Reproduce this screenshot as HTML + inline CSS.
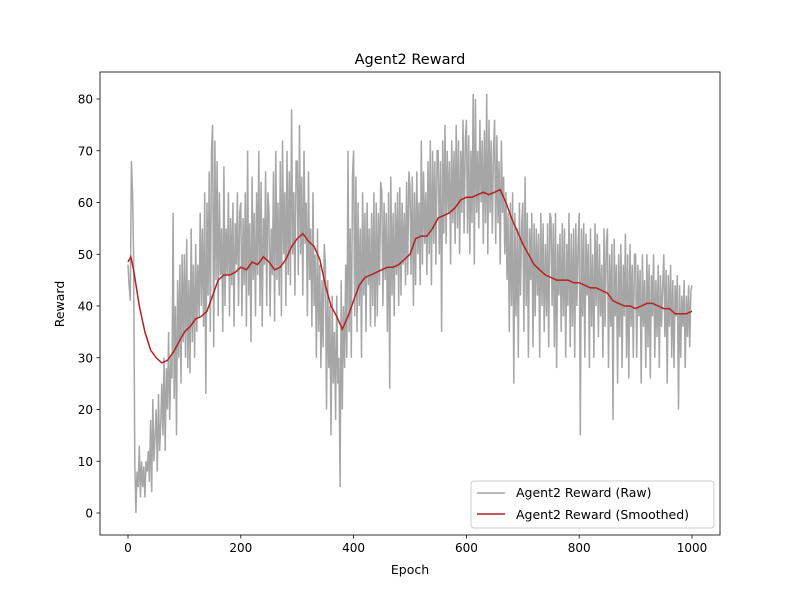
<!DOCTYPE html>
<html><head><meta charset="utf-8"><style>
body{margin:0;background:#fff}
svg text{font-family:"DejaVu Sans","Liberation Sans",sans-serif;fill:#000}
</style></head><body>
<svg id="chart" width="800" height="600" xmlns="http://www.w3.org/2000/svg"></svg>
<script>
const rawValues=[48,44,41,68,62,50,10,0,8,5,13,3,10,5,9,3,10,8,12,6,18,4,22,10,15,
20,8,23,12,17,25,15,30,12,28,20,35,18,30,26,58,22,40,15,45,30,48,25,50,33,
50,30,53,28,45,27,55,33,48,30,52,35,48,38,58,40,55,36,62,23,60,42,66,35,70,
75,32,72,45,68,38,62,46,55,35,67,40,55,46,62,38,57,44,60,36,56,48,62,40,58,
60,38,57,44,62,36,70,42,56,33,65,45,58,38,62,46,70,40,64,36,57,48,66,40,62,
58,38,55,46,66,37,70,45,60,42,68,38,72,50,62,40,70,46,66,44,78,50,62,42,68,
68,46,75,50,65,42,70,52,60,38,66,45,55,36,62,40,50,30,55,35,48,28,45,32,52,
48,20,45,28,40,15,42,25,35,18,42,25,30,5,45,20,40,28,48,30,70,35,55,30,65,
70,38,65,35,60,40,55,30,62,42,58,35,60,44,55,36,58,40,62,36,60,38,58,44,64,
62,40,60,45,58,35,62,24,65,42,58,38,60,46,62,40,63,42,60,48,58,44,64,46,66,
63,46,65,40,62,44,66,50,60,44,72,48,66,52,62,46,68,50,72,44,70,52,68,48,70,
70,50,68,35,72,54,75,52,70,58,68,48,72,56,70,52,75,55,72,50,70,58,76,54,72,
76,54,73,50,70,56,81,48,80,58,70,55,76,60,72,52,74,56,81,50,76,58,72,54,70,
76,52,73,56,68,48,72,58,65,50,62,45,58,35,60,40,62,25,58,38,55,30,60,42,56,
60,35,65,40,58,30,55,45,58,32,56,38,55,42,54,30,58,40,56,35,52,38,56,32,58,
57,40,56,32,58,28,52,42,54,35,56,38,55,30,52,40,58,32,54,36,55,30,56,40,52,
58,15,55,38,56,30,54,42,52,28,55,36,50,30,56,40,54,34,52,38,48,30,55,36,52,
55,28,50,36,52,18,53,38,48,25,50,34,52,28,48,38,54,30,50,26,52,36,48,30,50,
50,30,48,38,47,25,50,36,45,28,50,32,48,26,46,38,50,30,45,34,48,28,46,36,44,
50,34,47,25,46,36,48,30,45,28,44,38,46,20,44,30,42,36,45,28,42,34,44,32,43,
44];
const rawStep=2;
const smoothValues=[48.5,47,40,35,31.5,30,29,29.5,31,33,35,36,37.5,38,39,42,45,46,46,46.5,47.5,47,48.5,48,49.5,48.5,47,47.5,49,51.5,53,54,52.5,51.5,49,44,40,38,35.5,38,41,44,45.5,46,46.5,47,47.5,47.5,48,49,50,53,53.5,53.5,55,57,57.5,58,59,60.5,61,61,61.5,62,61.5,62,62.5,60,57,54.5,52,50,48,47,46,45.5,45,45,45,44.5,44.5,44,43.5,43.5,43,42.5,41,40.5,40,40,39.5,40,40.5,40.5,40,39.5,39.5,38.5,38.5,38.5,39];
const smoothStep=10;
const xTicks=[0,200,400,600,800,1000];
const yTicks=[0,10,20,30,40,50,60,70,80];
const NS="http://www.w3.org/2000/svg";
const svg=document.getElementById('chart');
const L=100,R=720,T=72,B=535;
const X=v=>128+v*0.564;
const Y=v=>513-v*5.175;
function el(tag,attrs,parent){const e=document.createElementNS(NS,tag);for(const k in attrs)e.setAttribute(k,attrs[k]);(parent||svg).appendChild(e);return e;}
const t=el('text',{x:410,y:64,'text-anchor':'middle','font-size':14.5});


t.textContent='Agent2 Reward';
let d=rawValues.map((v,i)=>(i?'L':'M')+X(i*rawStep).toFixed(1)+','+Y(v).toFixed(1)).join('');
const raw=el('path',{d:d,fill:'none',stroke:'#a6a6a6','stroke-width':1.5});


d=[X(0)+','+Y(48.5),X(5)+','+Y(49.5)].concat(smoothValues.slice(1).map((v,i)=>X((i+1)*smoothStep).toFixed(1)+','+Y(v).toFixed(1)));
const sm=el('path',{d:'M'+d.join('L'),fill:'none',stroke:'#b22222','stroke-width':1.5});


const frame=el('rect',{x:L,y:T,width:R-L,height:B-T,fill:'none',stroke:'#000','stroke-width':0.8});


xTicks.forEach(v=>{const g=el('g',{});


el('line',{x1:X(v),x2:X(v),y1:B,y2:B+3.5,stroke:'#000','stroke-width':0.8},g);
const tx=el('text',{x:X(v),y:B+17,'text-anchor':'middle','font-size':12},g);tx.textContent=v;});
yTicks.forEach(v=>{const g=el('g',{});


el('line',{x1:L,x2:L-3.5,y1:Y(v),y2:Y(v),stroke:'#000','stroke-width':0.8},g);
const tx=el('text',{x:L-7,y:Y(v)+4.5,'text-anchor':'end','font-size':12},g);tx.textContent=v;});
const xl=el('text',{x:410,y:574,'text-anchor':'middle','font-size':12.5});


xl.textContent='Epoch';
const yl=el('text',{x:64,y:304,'text-anchor':'middle','font-size':12.5,transform:'rotate(-90 64 304)'});


yl.textContent='Reward';
const lg=el('g',{});


el('rect',{x:471,y:481,width:243,height:47,rx:3,fill:'#fff','fill-opacity':0.8,stroke:'#ccc'},lg);
el('line',{x1:477,x2:505,y1:493,y2:493,stroke:'#a6a6a6','stroke-width':1.5},lg);
let lt=el('text',{x:516,y:497,'font-size':12.5},lg);lt.textContent='Agent2 Reward (Raw)';
el('line',{x1:477,x2:505,y1:514,y2:514,stroke:'#b22222','stroke-width':1.5},lg);
lt=el('text',{x:516,y:519,'font-size':12.5},lg);lt.textContent='Agent2 Reward (Smoothed)';
</script>
</body></html>
